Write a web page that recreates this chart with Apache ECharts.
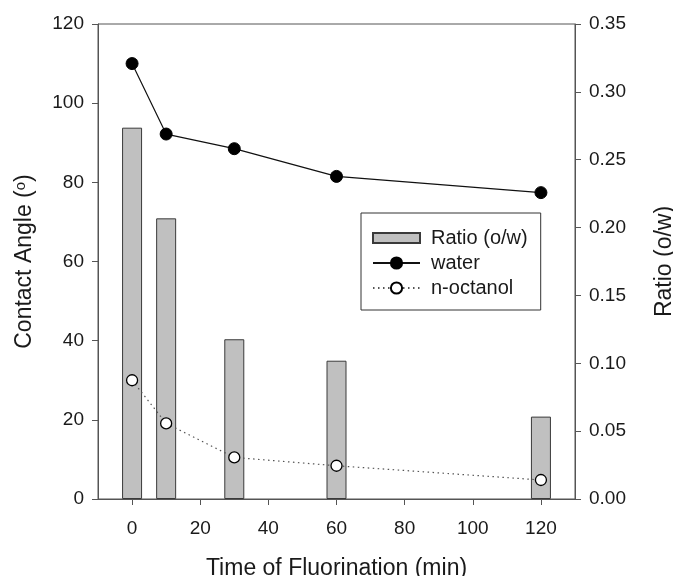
<!DOCTYPE html>
<html>
<head>
<meta charset="utf-8">
<script src="https://cdn.jsdelivr.net/npm/echarts@6/dist/echarts.min.js"></script>
<style>html,body{margin:0;padding:0;background:#fff}#c{width:673px;height:576px}</style>
</head>
<body>
<div id="c"></div>
<script>
const times = [0, 10, 30, 60, 120];
const ratio = [0.2736, 0.2068, 0.1177, 0.1019, 0.0607];
const water = [110, 92.2, 88.5, 81.5, 77.4];
const octanol = [30, 19.1, 10.5, 8.4, 4.8];
const xTicks = [0, 20, 40, 60, 80, 100, 120];

const FONT = '"Liberation Sans", Arial, Helvetica, sans-serif';
const AX = '#555';
const TXT = '#1a1a1a';

const chart = echarts.init(document.getElementById('c'));
const pair = (arr) => times.map((t, i) => [t, arr[i]]);

chart.setOption({
  animation: false,
  backgroundColor: '#fff',
  textStyle: { fontFamily: FONT },
  grid: { left: 98, right: 98, top: 24, bottom: 77, show: true, borderColor: AX, borderWidth: 1,
          containLabel: false, outerBoundsMode: 'none' },
  legend: {
    orient: 'vertical', left: 361, top: 213,
    padding: [15, 13, 12, 11],
    itemWidth: 47, itemHeight: 14, itemGap: 5,
    borderColor: '#333', borderWidth: 1,
    textStyle: { fontSize: 20, color: TXT, fontFamily: FONT, padding: [0, 0, 0, 6] },
    data: [
      { name: 'Ratio (o/w)', icon: 'path://M0,0L47,0L47,10L0,10Z' },
      { name: 'water' },
      { name: 'n-octanol' }
    ]
  },
  xAxis: {
    type: 'value', min: -10, max: 130,
    name: 'Time of Fluorination (min)', nameLocation: 'middle', nameGap: 58,
    nameTextStyle: { fontSize: 23, color: TXT, fontFamily: FONT },
    axisLine: { show: true, onZero: false, lineStyle: { color: AX } },
    axisTick: { show: true, length: 6, lineStyle: { color: AX }, customValues: xTicks },
    axisLabel: { fontSize: 19, color: TXT, margin: 20, customValues: xTicks },
    splitLine: { show: false }
  },
  yAxis: [
    {
      type: 'value', min: 0, max: 120, interval: 20, position: 'left',
      name: '{t|Contact Angle (}{s|o}{t|)}', nameLocation: 'middle', nameGap: 62, nameRotate: 90,
      nameTextStyle: { fontSize: 23, color: TXT, fontFamily: FONT,
        rich: { t: { fontSize: 23, color: TXT, fontFamily: FONT }, s: { fontSize: 15, color: TXT, fontFamily: FONT, verticalAlign: 'top', padding: [0, 0, 8, 0] } } },
      axisLine: { show: true, onZero: false, lineStyle: { color: AX } },
      axisTick: { show: true, length: 6, lineStyle: { color: AX } },
      axisLabel: { fontSize: 19, color: TXT, margin: 14 },
      splitLine: { show: false }
    },
    {
      type: 'value', min: 0, max: 0.35, interval: 0.05, position: 'right',
      name: 'Ratio (o/w)', nameLocation: 'middle', nameGap: 78, nameRotate: 90,
      nameTextStyle: { fontSize: 23, color: TXT, fontFamily: FONT },
      axisLine: { show: true, onZero: false, lineStyle: { color: AX } },
      axisTick: { show: true, length: 6, lineStyle: { color: AX } },
      axisLabel: { fontSize: 19, color: TXT, margin: 14, formatter: v => v.toFixed(2) },
      splitLine: { show: false }
    }
  ],
  series: [
    {
      name: 'Ratio (o/w)', type: 'bar', yAxisIndex: 1, barWidth: 20, z: 1,
      data: pair(ratio),
      itemStyle: { color: '#c0c0c0', borderColor: '#3a3a3a', borderWidth: 1 }
    },
    {
      name: 'water', type: 'line', yAxisIndex: 0, data: pair(water), z: 3,
      symbol: 'circle', symbolSize: 12,
      lineStyle: { color: '#111', width: 1.2 },
      itemStyle: { color: '#000', borderColor: '#000', borderWidth: 1 }
    },
    {
      name: 'n-octanol', type: 'line', yAxisIndex: 0, data: pair(octanol), z: 3,
      symbol: 'circle', symbolSize: 11,
      lineStyle: { color: '#555', width: 1.2, type: [1.5, 3.5] },
      itemStyle: { color: '#fff', borderColor: '#000', borderWidth: 1.3 }
    }
  ]
});
</script>
</body>
</html>
